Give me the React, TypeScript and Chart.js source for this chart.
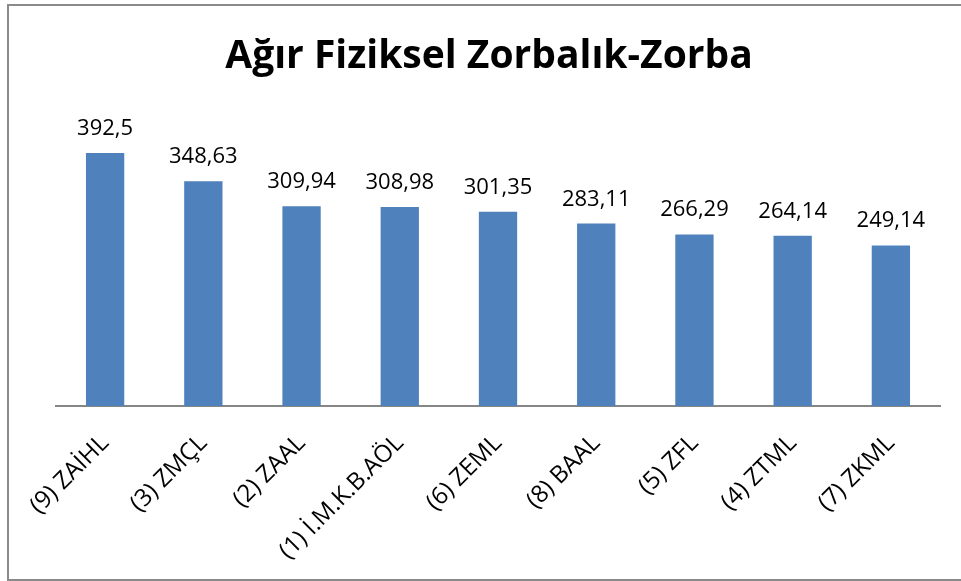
import React, { useEffect, useRef } from "react";
import { Chart, registerables } from "chart.js";

Chart.register(...registerables);

const TITLE = "Ağır Fiziksel Zorbalık-Zorba";
const categories = [
  "(9) ZAİHL",
  "(3) ZMÇL",
  "(2) ZAAL",
  "(1) İ.M.K.B.AÖL",
  "(6) ZEML",
  "(8) BAAL",
  "(5) ZFL",
  "(4) ZTML",
  "(7) ZKML",
];
const values = [392.5, 348.63, 309.94, 308.98, 301.35, 283.11, 266.29, 264.14, 249.14];

const FONT = "'Open Sans', 'DejaVu Sans', sans-serif";

const labelPlugin = {
  id: "valueLabels",
  afterDatasetsDraw(chart: any) {
    const ctx = chart.ctx;
    const meta = chart.getDatasetMeta(0);
    ctx.save();
    ctx.fillStyle = "#000";
    ctx.font = `22px ${FONT}`;
    ctx.textAlign = "center";
    ctx.textBaseline = "alphabetic";
    meta.data.forEach((el: any, i: number) => {
      const txt = String(values[i]).replace(".", ",");
      ctx.fillText(txt, el.x, el.y - 18);
    });
    ctx.restore();
  },
  afterDraw(chart: any) {
    const ctx = chart.ctx;
    ctx.save();
    ctx.fillStyle = "#000";
    ctx.font = `bold 39px ${FONT}`;
    ctx.textAlign = "center";
    ctx.textBaseline = "alphabetic";
    ctx.fillText(TITLE, 489, 68);
    ctx.restore();
  },
};

export default function App() {
  const ref = useRef<HTMLCanvasElement | null>(null);
  useEffect(() => {
    if (!ref.current) return;
    const chart = new Chart(ref.current, {
      type: "bar",
      data: {
        labels: categories,
        datasets: [
          {
            data: values,
            backgroundColor: "#4F81BD",
            barPercentage: 0.39,
            categoryPercentage: 1,
          },
        ],
      },
      options: {
        animation: false,
        responsive: false,
        layout: { padding: { left: 56, right: 21, top: 116, bottom: 0 } },
        plugins: { legend: { display: false }, tooltip: { enabled: false }, title: { display: false } },
        scales: {
          y: { display: false, min: 0, max: 450 },
          x: {
            grid: { display: false, drawTicks: false },
            border: { display: true, color: "#868686", width: 2 },
            ticks: {
              minRotation: 45,
              maxRotation: 45,
              autoSkip: false,
              padding: 23,
              color: "#000",
              font: { family: FONT, size: 24 },
            },
            afterFit: (scale: any) => {
              scale.height = 175;
            },
          },
        },
      },
      plugins: [labelPlugin],
    });
    return () => chart.destroy();
  }, []);
  return (
    <div style={{ position: "absolute", left: 0, top: 0, width: 961, height: 581, overflow: "hidden", background: "#fff" }}>
      <div
        style={{
          position: "absolute",
          left: 7,
          top: 4,
          width: 954,
          height: 577,
          boxSizing: "border-box",
          borderLeft: "2px solid #8a8a8a",
          borderTop: "2px solid #8a8a8a",
          borderBottom: "2px solid #8a8a8a",
        }}
      />
      <canvas ref={ref} width={961} height={581} style={{ position: "absolute", left: 0, top: 0 }} />
    </div>
  );
}
